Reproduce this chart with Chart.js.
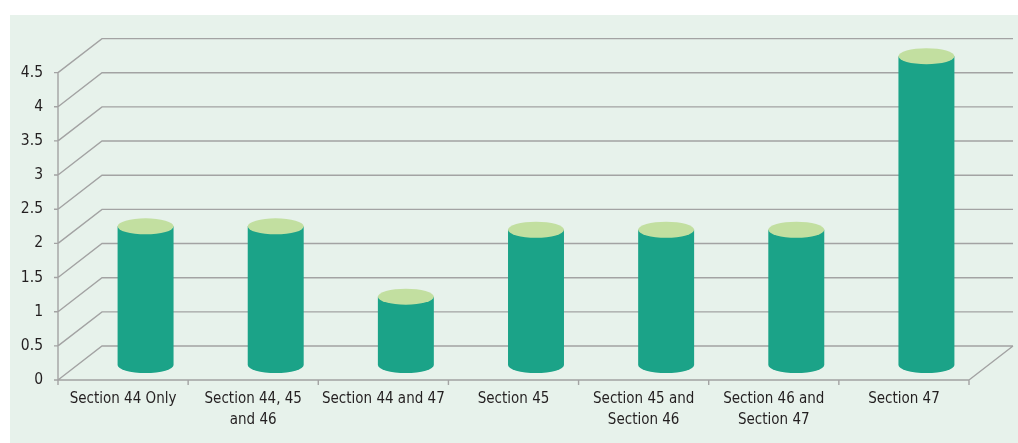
<!DOCTYPE html>
<html><head><meta charset="utf-8">
<script src="https://cdn.jsdelivr.net/npm/chart.js@4"></script>
<style>html,body{margin:0;padding:0;background:#fff;}#wrap{width:1018px;height:443px;position:relative}</style>
</head><body><div id="wrap"><canvas id="c"></canvas></div>
<script>
const categories = [["Section 44 Only"],["Section 44, 45","and 46"],["Section 44 and 47"],["Section 45"],["Section 45 and","Section 46"],["Section 46 and","Section 47"],["Section 47"]];
const values = [2.03, 2.03, 1.0, 1.98, 1.98, 1.98, 4.52];
const yMin = 0, yMax = 4.5, yStep = 0.5;

const FONT = "'DejaVu Sans Condensed','Liberation Sans Narrow',sans-serif";
const DEPTH_X = 44, DEPTH_Y = -34;
const GRID = '#a3a3a3';

const decor = {
  id: 'decor',
  beforeDraw(chart) {
    const ctx = chart.ctx;
    ctx.save();
    ctx.fillStyle = '#e7f2eb';
    ctx.fillRect(10, 15, chart.width - 10, chart.height - 15);
    ctx.restore();
  },
  beforeDatasetsDraw(chart) {
    const ctx = chart.ctx, ys = chart.scales.y, xs = chart.scales.x;
    const L = chart.chartArea.left, R = chart.chartArea.right, B = ys.getPixelForValue(0), T = ys.getPixelForValue(yMax);
    ctx.save();
    ctx.strokeStyle = GRID; ctx.lineWidth = 1.4;
    ctx.beginPath();
    for (let v = yMin; v <= yMax + 1e-9; v += yStep) {
      const y = ys.getPixelForValue(v);
      ctx.moveTo(L, y); ctx.lineTo(L + DEPTH_X, y + DEPTH_Y); ctx.lineTo(R + DEPTH_X, y + DEPTH_Y);
      ctx.moveTo(L - 4, y); ctx.lineTo(L, y);
    }
    ctx.moveTo(R, B); ctx.lineTo(R + DEPTH_X, B + DEPTH_Y);
    ctx.moveTo(L, T); ctx.lineTo(L, B); ctx.lineTo(R, B);
    for (let i = 0; i <= categories.length; i++) {
      const x = xs.getPixelForValue(i - 0.5);
      ctx.moveTo(x, B); ctx.lineTo(x, B + 5);
    }
    ctx.stroke();
    ctx.restore();
  },
  afterDatasetsDraw(chart) {
    const ctx = chart.ctx;
    const meta = chart.getDatasetMeta(0);
    ctx.save();
    meta.data.forEach(el => {
      const cx = el.x + 22.5, topY = el.y - 15, baseY = el.base - 15;
      const rx = el.width / 2, ry = 8;
      ctx.fillStyle = '#1ba388';
      ctx.beginPath();
      ctx.moveTo(cx - rx, topY);
      ctx.lineTo(cx - rx, baseY);
      ctx.ellipse(cx, baseY, rx, ry, 0, Math.PI, 0, true);
      ctx.lineTo(cx + rx, topY);
      ctx.closePath();
      ctx.fill();
      ctx.fillStyle = '#c2dfa0';
      ctx.beginPath();
      ctx.ellipse(cx, topY, rx, ry, 0, 0, Math.PI * 2);
      ctx.fill();
    });
    ctx.restore();
  }
};

new Chart(document.getElementById('c'), {
  type: 'bar',
  data: {
    labels: categories,
    datasets: [{ data: values, backgroundColor: 'rgba(0,0,0,0)', borderWidth: 0, barPercentage: 0.43, categoryPercentage: 1 }]
  },
  options: {
    responsive: true, maintainAspectRatio: false, animation: false,
    layout: { padding: { top: 72.6, right: 49, left: 0, bottom: 0 } },
    plugins: { legend: { display: false }, tooltip: { enabled: false } },
    scales: {
      x: {
        grid: { display: false, drawTicks: false }, border: { display: false },
        ticks: { color: '#231f20', font: { family: FONT, size: 15, lineHeight: 1.38 }, padding: 9, maxRotation: 0, autoSkip: false },
        afterFit: s => { s.height = 63; }
      },
      y: {
        min: yMin, max: yMax,
        grid: { display: false, drawTicks: false }, border: { display: false },
        ticks: { stepSize: yStep, color: '#231f20', font: { family: FONT, size: 15.5 }, padding: 15, callback: v => String(v) },
        afterFit: s => { s.width = 58; }
      }
    }
  },
  plugins: [decor]
});
</script></body></html>
